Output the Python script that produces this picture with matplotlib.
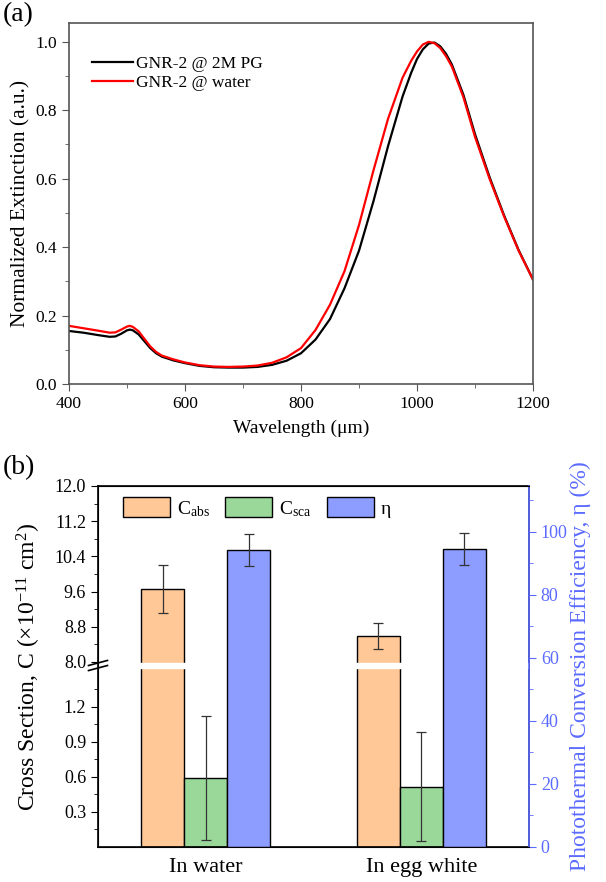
import numpy as np
import matplotlib.pyplot as plt
from matplotlib.ticker import MultipleLocator, FixedLocator, NullFormatter

plt.rcParams['font.family'] = ['Liberation Serif', 'DejaVu Serif']
plt.rcParams['mathtext.fontset'] = 'custom'
plt.rcParams['mathtext.rm'] = 'Liberation Serif'
plt.rcParams['mathtext.it'] = 'Liberation Serif:italic'

# ---- panel (a) data: normalized extinction spectra ----
wavelength = [400, 425, 450, 470, 480, 490, 500, 505, 510, 520, 530, 540, 550, 560, 580,
              600, 625, 650, 675, 700, 725, 750, 775, 800, 825, 850, 875, 900, 925, 950,
              975, 990, 1000, 1010, 1020, 1030, 1040, 1050, 1060, 1080, 1100, 1125, 1150,
              1175, 1200]
ext_pg = [0.155, 0.150, 0.143, 0.138, 0.139, 0.147, 0.157, 0.159, 0.157, 0.145, 0.125,
          0.105, 0.090, 0.080, 0.069, 0.061, 0.053, 0.049, 0.048, 0.048, 0.050, 0.056,
          0.068, 0.090, 0.130, 0.190, 0.280, 0.390, 0.535, 0.695, 0.840, 0.910, 0.950,
          0.978, 0.995, 0.998, 0.987, 0.965, 0.934, 0.845, 0.730, 0.605, 0.493, 0.392,
          0.305]
ext_water = [0.170, 0.163, 0.156, 0.150, 0.151, 0.159, 0.168, 0.170, 0.167, 0.154, 0.132,
             0.110, 0.094, 0.083, 0.072, 0.063, 0.055, 0.051, 0.050, 0.051, 0.054, 0.062,
             0.078, 0.105, 0.158, 0.232, 0.330, 0.465, 0.625, 0.775, 0.895, 0.945, 0.972,
             0.992, 1.000, 0.996, 0.982, 0.958, 0.928, 0.838, 0.722, 0.600, 0.490, 0.390,
             0.305]

# ---- panel (b) data ----
media = ['In water', 'In egg white']
c_abs = [9.66, 8.59]
c_abs_err = [0.55, 0.29]
c_sca = [0.59, 0.517]
c_sca_err = [0.53, 0.47]
eta = [94.2, 94.6]
eta_err = [5.0, 5.0]

# broken axis: 0..B below, 8..12 above
B, TOP0 = 1.525, 8.0
K_LO, K_GAP, K_HI = 116.7, 7.0, 44.0


def fwd(y):
    y = np.asarray(y, dtype=float)
    lo = y * K_LO
    mid = B * K_LO + (y - B) / (TOP0 - B) * K_GAP
    hi = B * K_LO + K_GAP + (y - TOP0) * K_HI
    return np.where(y <= B, lo, np.where(y < TOP0, mid, hi))


def inv(v):
    v = np.asarray(v, dtype=float)
    v1 = B * K_LO
    v2 = v1 + K_GAP
    lo = v / K_LO
    mid = B + (v - v1) / K_GAP * (TOP0 - B)
    hi = TOP0 + (v - v2) / K_HI
    return np.where(v <= v1, lo, np.where(v < v2, mid, hi))


fig = plt.figure(figsize=(6.06, 8.82), dpi=100)

# ================= (a) =================
ax1 = fig.add_axes([0.1139, 0.5646, 0.7657, 0.4093])
ax1.plot(wavelength, ext_pg, color='black', lw=1.6, label='GNR-2 @ 2M PG')
ax1.plot(wavelength, ext_water, color='red', lw=1.6, label='GNR-2 @ water')
ax1.set_xlim(400, 1200)
ax1.xaxis.set_major_locator(MultipleLocator(200))
ax1.xaxis.set_minor_locator(MultipleLocator(100))
ax1.set_yticks([0.0, 0.2, 0.4, 0.6, 0.8, 1.0])
ax1.set_yticklabels(['0.0', '0.2', '0.4', '0.6', '0.8', '1.0'])
ax1.yaxis.set_minor_locator(MultipleLocator(0.1))
ax1.set_ylim(0, 1.055)
for s in ax1.spines.values():
    s.set_color('#555555')
    s.set_linewidth(1.2)
ax1.tick_params(which='both', direction='out', color='#555555', labelsize=12.5)
ax1.tick_params(which='major', length=5)
ax1.tick_params(which='minor', length=3)
ax1.set_xlabel('Wavelength (μm)', fontsize=14, labelpad=6)
ax1.set_ylabel('Normalized Extinction (a.u.)', fontsize=15.5)
ax1.yaxis.set_label_coords(-0.084, 0.5)
ax1.legend(loc='upper left', bbox_to_anchor=(0.0345, 0.927), frameon=False, fontsize=12.5,
           handlelength=2.35, handletextpad=0.2, labelspacing=0.15, borderaxespad=0)
fig.text(0.004, 0.983, '(a)', fontsize=20, va='center')

# ================= (b) =================
ax2 = fig.add_axes([0.1617, 0.0397, 0.7112, 0.4093])
ax2.set_yscale('function', functions=(fwd, inv))
x = np.arange(1, len(media) + 1)
w = 0.2
ekw = dict(ecolor='#333333', elinewidth=0.9, capsize=3.5, capthick=0.9)
b_abs = ax2.bar(x - w, c_abs, w, yerr=c_abs_err, color='#FFC896', edgecolor='black',
                lw=1, error_kw=ekw)
b_sca = ax2.bar(x, c_sca, w, yerr=c_sca_err, color='#9AD89A', edgecolor='black',
                lw=1, error_kw=ekw)
ax2.axhspan(B + 0.5, TOP0 - 0.5, color='white', zorder=5)
ax2.set_xlim(0.5, 2.5)
ax2.set_ylim(0, 12.0)
ax2.yaxis.set_major_locator(FixedLocator([0.3, 0.6, 0.9, 1.2, 8.0, 8.8, 9.6, 10.4, 11.2, 12.0]))
ax2.yaxis.set_minor_locator(FixedLocator([0.15, 0.45, 0.75, 1.05, 1.35, 8.4, 9.2, 10.0, 10.8, 11.6]))
ax2.set_yticklabels(['0.3', '0.6', '0.9', '1.2', '8.0', '8.8', '9.6', '10.4', '11.2', '12.0'])
ax2.yaxis.set_minor_formatter(NullFormatter())
ax2.set_xticks(x)
ax2.set_xticklabels(media, fontsize=16)
ax2.tick_params(axis='x', length=0, pad=8)
ax2.tick_params(axis='y', which='both', direction='out', labelsize=13)
ax2.tick_params(axis='y', which='major', length=5)
ax2.tick_params(axis='y', which='minor', length=3)
for s in ax2.spines.values():
    s.set_linewidth(1.2)
ax2.set_ylabel('Cross Section, C (×10$^{-11}$ cm$^{2}$)', fontsize=17)
ax2.yaxis.set_label_coords(-0.128, 0.5)

# break marks on the left spine
ybrk = 0.5 * (fwd(B) + fwd(TOP0)) / fwd(12.0)
for dy in (-0.007, 0.007):
    ax2.plot([-0.022, 0.022], [ybrk + dy - 0.007, ybrk + dy + 0.007], transform=ax2.transAxes,
             color='black', lw=1.2, clip_on=False, zorder=10)

blue = '#5B6BFF'
ax3 = ax2.twinx()
b_eta = ax3.bar(x + w, eta, w, yerr=eta_err, color='#8C9CFF', edgecolor='black',
                lw=1, error_kw=ekw)
ax3.set_yticks([0, 20, 40, 60, 80, 100])
ax3.yaxis.set_minor_locator(MultipleLocator(10))
ax3.set_ylim(0, 114.6)
ax3.spines['right'].set_color(blue)
ax3.spines['right'].set_linewidth(1.2)
ax3.tick_params(axis='y', which='both', direction='out', colors=blue, labelsize=13)
ax3.tick_params(axis='y', which='major', length=5)
ax3.tick_params(axis='y', which='minor', length=3)
ax3.set_ylabel('Photothermal Conversion Efficiency, η (%)', color=blue, fontsize=17)
ax3.yaxis.set_label_coords(1.095, 0.5)
ax3.legend([b_abs, b_sca, b_eta], ['C$_{\\rm abs}$', 'C$_{\\rm sca}$', 'η'], loc='upper left',
           bbox_to_anchor=(0.041, 0.99), ncol=3, frameon=False, fontsize=14,
           handlelength=2.4, handleheight=1.2, handletextpad=0.35, columnspacing=0.8,
           borderaxespad=0)
fig.text(0.004, 0.47, '(b)', fontsize=20, va='center')

fig.savefig('out.png', dpi=100)
